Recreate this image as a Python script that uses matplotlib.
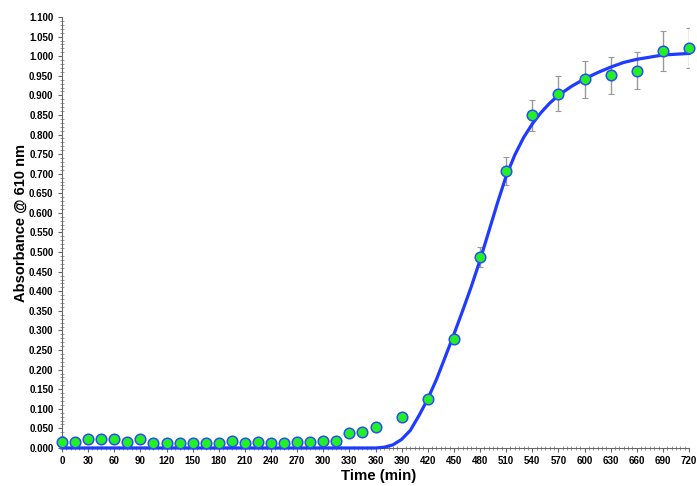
import matplotlib
matplotlib.use("Agg")
import matplotlib.pyplot as plt
from matplotlib.ticker import MultipleLocator, FormatStrFormatter

plt.rcParams['font.family'] = ['Liberation Sans', 'DejaVu Sans']

# measured data
time_min = [0, 15, 30, 45, 60, 75, 90, 105, 120, 135, 150, 165, 180, 195, 210,
            225, 240, 255, 270, 285, 300, 315, 330, 345, 360, 390, 420, 450,
            480, 510, 540, 570, 600, 630, 660, 690, 720]
absorbance = [0.015, 0.015, 0.024, 0.023, 0.022, 0.016, 0.024, 0.014, 0.013,
              0.013, 0.012, 0.013, 0.013, 0.017, 0.012, 0.015, 0.013, 0.014,
              0.015, 0.015, 0.018, 0.018, 0.038, 0.041, 0.053, 0.078, 0.126,
              0.278, 0.487, 0.707, 0.849, 0.904, 0.941, 0.951, 0.963, 1.014,
              1.021]
abs_err = [0]*27 + [0.010, 0.025, 0.036, 0.040, 0.045, 0.047, 0.048, 0.048,
                    0.051, 0.052]

# fitted curve
fit_t = [0, 360, 370, 380, 390, 400, 410, 420, 430, 440, 450, 460, 470, 480,
         490, 500, 510, 520, 530, 540, 550, 560, 570, 585, 600, 615, 630, 645,
         660, 690, 720]
fit_y = [0.0, 0.0, 0.002, 0.008, 0.022, 0.045, 0.083, 0.125, 0.175, 0.232,
         0.290, 0.350, 0.412, 0.479, 0.552, 0.625, 0.694, 0.748, 0.792, 0.827,
         0.856, 0.880, 0.900, 0.923, 0.942, 0.958, 0.972, 0.984, 0.992, 1.003,
         1.007]

fig = plt.figure(figsize=(6.97, 4.86), dpi=100)
ax = fig.add_axes([62/697, 38/486, 627/697, 431/486])

ax.errorbar(time_min, absorbance, yerr=abs_err, fmt='none', ecolor='#999999',
            elinewidth=1.0, capsize=2, capthick=0.8, zorder=2)
ax.plot(fit_t, fit_y, color='#1f3bff', linewidth=2.3, zorder=3,
        clip_on=False)
ax.plot(time_min, absorbance, linestyle='none', marker='o', markersize=7.6,
        markerfacecolor='#22f022', markeredgecolor='#2a4cff',
        markeredgewidth=1.1, zorder=4, clip_on=False)

ax.set_xlim(0, 720)
ax.set_ylim(0, 1.1)
ax.xaxis.set_major_locator(MultipleLocator(30))
ax.xaxis.set_minor_locator(MultipleLocator(5))
ax.yaxis.set_major_locator(MultipleLocator(0.05))
ax.yaxis.set_minor_locator(MultipleLocator(0.01))
ax.yaxis.set_major_formatter(FormatStrFormatter('%.3f'))

for s in ['top', 'right']:
    ax.spines[s].set_visible(False)
for s in ['left', 'bottom']:
    ax.spines[s].set_color('#666666')
    ax.spines[s].set_linewidth(0.8)

ax.tick_params(which='major', direction='out', length=3, width=0.8,
               color='#666666', labelsize=7)
ax.tick_params(axis='x', which='major', pad=3)
ax.tick_params(axis='y', which='major', pad=3.2)
ax.tick_params(which='minor', direction='inout', length=2.5, width=0.6,
               color='#888888')
for lab in ax.get_xticklabels() + ax.get_yticklabels():
    lab.set_fontweight('bold')

ax.set_xlabel('Time (min)', fontsize=10.8, fontweight='bold')
ax.set_ylabel('Absorbance @ 610 nm', fontsize=10.5, fontweight='bold')
ax.xaxis.set_label_coords((379 - 62) / 627, (448 - 469) / 431)
ax.yaxis.set_label_coords((28 - 62) / 627, (448 - 223) / 431)

fig.savefig('out.png', dpi=100)
